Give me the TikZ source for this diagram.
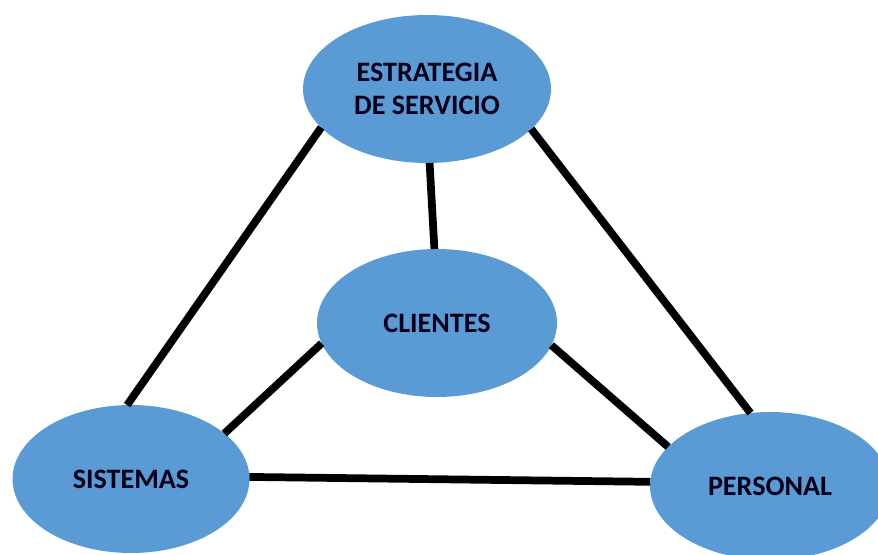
\documentclass[tikz,border=0pt]{standalone}
\usepackage{fontspec}
\setmainfont{Carlito}
\usepackage{tikz}
\usetikzlibrary{shapes.geometric}
\definecolor{ovalblue}{HTML}{5B9BD5}

\begin{document}
\begin{tikzpicture}[x=0.02cm, y=-0.02cm,
  every node/.style={ellipse, fill=ovalblue, inner sep=0pt, outer sep=0pt, align=center,
    font=\fontsize{16}{18.5}\selectfont\bfseries, text=black!90!blue},
  link/.style={line width=4.4pt, black}]
\useasboundingbox (0,0) rectangle (878,554);
\node[minimum width=4.96cm, minimum height=2.96cm] (strategy) at (427,89) {ESTRATEGIA\\DE SERVICIO};
\node[minimum width=4.8cm, minimum height=2.96cm] (clientes) at (437,323) {CLIENTES};
\node[minimum width=4.74cm, minimum height=2.96cm] (sistemas) at (131,479) {SISTEMAS};
\node[minimum width=4.8cm, minimum height=2.96cm] (personal) at (770,486) {PERSONAL};

\draw[link] (strategy.200) -- (sistemas.93);
\draw[link] (strategy.272) -- (clientes.92);
\draw[link] (strategy.339) -- (personal.105);
\draw[link] (clientes.190) -- (sistemas.26);
\draw[link] (clientes.349) -- (personal.159);
\draw[link] (sistemas.1) -- (personal.178);
\end{tikzpicture}
\end{document}
